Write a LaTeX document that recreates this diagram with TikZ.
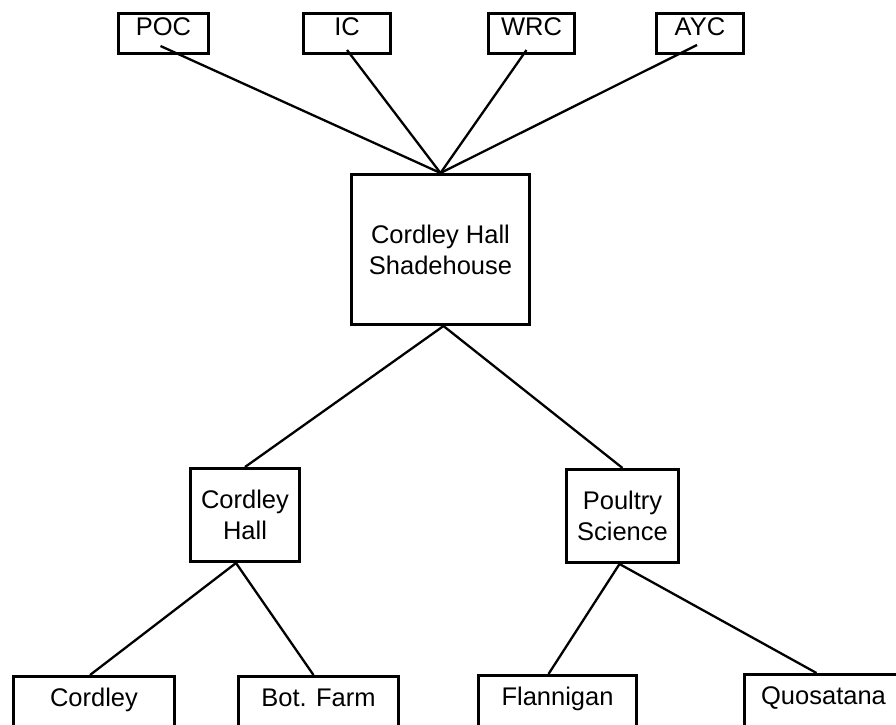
\documentclass[tikz,border=0pt]{standalone}
\usepackage{fontspec}
\setmainfont{Liberation Sans}
\usetikzlibrary{calc}
\begin{document}
\begin{tikzpicture}[x=1pt,y=-1pt,
  box/.style={draw=black,line width=3pt,fill=white,rectangle,inner sep=0pt,
    font=\fontsize{25.5}{31}\selectfont,anchor=north west,align=center},
  topbox/.style={box,minimum height=40pt,text height=18pt,text depth=14pt},
  botbox/.style={box,minimum height=70pt,text height=18pt,text depth=28pt},
  link/.style={draw=black,line width=2.3pt}]
\useasboundingbox[fill=white] (0,0) rectangle (896,724);
% nodes
\node[topbox,minimum width=90pt] (poc) at (117,12) {POC};
\node[topbox,minimum width=87pt] (ic)  at (302,12) {IC};
\node[topbox,minimum width=86pt] (wrc) at (487,12) {WRC};
\node[topbox,minimum width=87pt] (ayc) at (655,12) {AYC};
\node[box,minimum width=178pt,minimum height=150pt] (chs) at (350,173) {Cordley Hall\\Shadehouse};
\node[box,minimum width=109pt,minimum height=93pt] (ch) at (189,467) {Cordley\\Hall};
\node[box,minimum width=112pt,minimum height=93pt] (ps) at (565,468) {Poultry\\Science};
\node[botbox,minimum width=161pt] (cord) at (12,675) {Cordley};
\node[botbox,minimum width=160pt] (bot) at (237,675) {Bot. Farm};
\node[botbox,minimum width=158pt] (flan) at (477,674) {Flannigan};
\node[botbox,minimum width=158pt] (quos) at (743,673) {Quosatana};
% connectors
\draw[link] ($(poc.south)+(-3,-9)$) -- (chs.north);
\draw[link] ($(ic.south)+(0,-5)$) -- (chs.north);
\draw[link] ($(wrc.south)+(-5,-5)$) -- (chs.north);
\draw[link] ($(ayc.south)+(-3,-10)$) -- (chs.north);
\draw[link] ($(chs.south)+(3,0)$) -- (ch.north);
\draw[link] ($(chs.south)+(3,0)$) -- (ps.north);
\draw[link] ($(ch.south)+(-9,0)$) -- ($(cord.north)+(-4,0)$);
\draw[link] ($(ch.south)+(-9,0)$) -- ($(bot.north)+(-5,0)$);
\draw[link] ($(ps.south)+(-3,0)$) -- ($(flan.north)+(-9,0)$);
\draw[link] ($(ps.south)+(-3,0)$) -- ($(quos.north)+(-7,0)$);
\end{tikzpicture}
\end{document}
